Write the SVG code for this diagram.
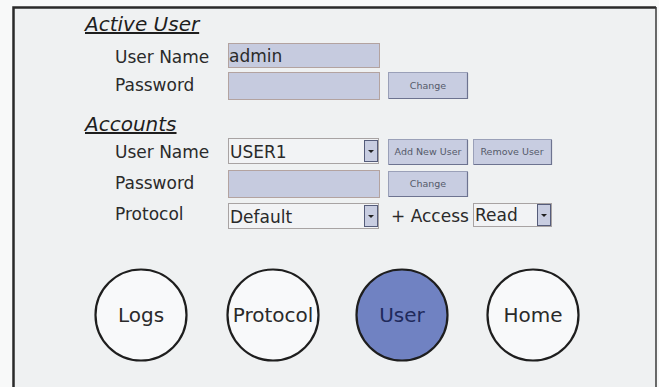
<svg xmlns="http://www.w3.org/2000/svg" width="659" height="387" viewBox="0 0 659 387">
<defs>
<style>
.lbl{font-family:"DejaVu Sans","Liberation Sans",sans-serif;font-size:17px;fill:#2a2a2a}
.hdr{font-family:"DejaVu Sans","Liberation Sans",sans-serif;font-size:20px;font-style:italic;fill:#1e1e1e;text-decoration:underline}
.field{fill:#c6cbdf;stroke:#b3a3a0;stroke-width:1}
.combo{fill:#f2f3f5;stroke:#a8a3a3;stroke-width:1}
.btn{fill:#c8cde1;stroke:#9aa0b8;stroke-width:1}
.btnsh{fill:none;stroke:#6d7390;stroke-width:1.2}
.btxt{font-family:"DejaVu Sans","Liberation Sans",sans-serif;font-size:9.5px;fill:#555a6a;text-anchor:middle}
.arrowbtn{fill:#c8cde1;stroke:#555c7a;stroke-width:1}
.circ{fill:#f8f9fa;stroke:#1e1e1e;stroke-width:2.2}
.ctxt{font-family:"DejaVu Sans","Liberation Sans",sans-serif;font-size:20px;fill:#2a2a2a;text-anchor:middle}
</style>
</defs>
<rect x="0" y="0" width="659" height="387" fill="#f8f9f9"/>
<rect x="13" y="7" width="643" height="385" fill="#eff1f2"/>
<path d="M13.5 390 V7.5 H656" fill="none" stroke="#2a2a2a" stroke-width="2.5"/>
<line x1="656" y1="7" x2="656" y2="390" stroke="#3a3a3a" stroke-width="1.5"/>

<g id="active-user">
<text class="hdr" x="85" y="31">Active User</text>
<text class="lbl" x="115" y="63">User Name</text>
<rect class="field" x="228.5" y="43.5" width="151" height="24"/>
<text class="lbl" x="229" y="62" fill="#111">admin</text>
<text class="lbl" x="115" y="91">Password</text>
<rect class="field" x="228.5" y="72.5" width="151" height="27"/>
<g id="btn-change1">
<rect class="btn" x="388.5" y="72.5" width="79" height="26"/>
<path class="btnsh" d="M389 98.5 H467.5 V73"/>
<text class="btxt" x="428" y="89">Change</text>
</g>
</g>

<g id="accounts">
<text class="hdr" x="85" y="131">Accounts</text>
<text class="lbl" x="115" y="158">User Name</text>
<g id="combo-user">
<rect class="combo" x="228.5" y="138.5" width="150" height="25"/>
<rect class="arrowbtn" x="364.5" y="140.5" width="13" height="21"/>
<path d="M368 150 h6 l-3 3 z" fill="#222"/>
<text class="lbl" x="230" y="158" fill="#111">USER1</text>
</g>
<g id="btn-add">
<rect class="btn" x="388.5" y="139.5" width="79" height="25"/>
<path class="btnsh" d="M389 164.5 H467.5 V140"/>
<text class="btxt" x="428" y="155">Add New User</text>
</g>
<g id="btn-remove">
<rect class="btn" x="473.5" y="139.5" width="78" height="25"/>
<path class="btnsh" d="M474 164.5 H551.5 V140"/>
<text class="btxt" x="512" y="155">Remove User</text>
</g>
<text class="lbl" x="115" y="189">Password</text>
<rect class="field" x="228.5" y="170.5" width="151" height="27"/>
<g id="btn-change2">
<rect class="btn" x="388.5" y="171.5" width="79" height="25"/>
<path class="btnsh" d="M389 196.5 H467.5 V172"/>
<text class="btxt" x="428" y="187">Change</text>
</g>
<text class="lbl" x="115" y="220">Protocol</text>
<g id="combo-protocol">
<rect class="combo" x="228.5" y="203.5" width="150" height="25"/>
<rect class="arrowbtn" x="364.5" y="205.5" width="13" height="21"/>
<path d="M368 215 h6 l-3 3 z" fill="#222"/>
<text class="lbl" x="230" y="223" fill="#111">Default</text>
</g>
<text class="lbl" x="391" y="222">+ Access</text>
<g id="combo-access">
<rect class="combo" x="473.5" y="203.5" width="78" height="23"/>
<rect class="arrowbtn" x="537.5" y="204.5" width="13" height="21"/>
<path d="M541 214 h6 l-3 3 z" fill="#222"/>
<text class="lbl" x="475" y="221" fill="#111">Read</text>
</g>
</g>

<g id="nav-logs">
<circle class="circ" cx="141" cy="315" r="45.5"/>
<text class="ctxt" x="141" y="322">Logs</text>
</g>
<g id="nav-protocol">
<circle class="circ" cx="273" cy="315" r="45.5"/>
<text class="ctxt" x="273" y="322">Protocol</text>
</g>
<g id="nav-user">
<circle class="circ" cx="402" cy="315" r="45.5" fill="#7082c2" style="fill:#7082c2"/>
<text class="ctxt" x="402" y="322" fill="#1f2a5c" style="fill:#1f2a5c">User</text>
</g>
<g id="nav-home">
<circle class="circ" cx="533" cy="315" r="45.5"/>
<text class="ctxt" x="533" y="322">Home</text>
</g>
<g id="connectors"/>
</svg>
